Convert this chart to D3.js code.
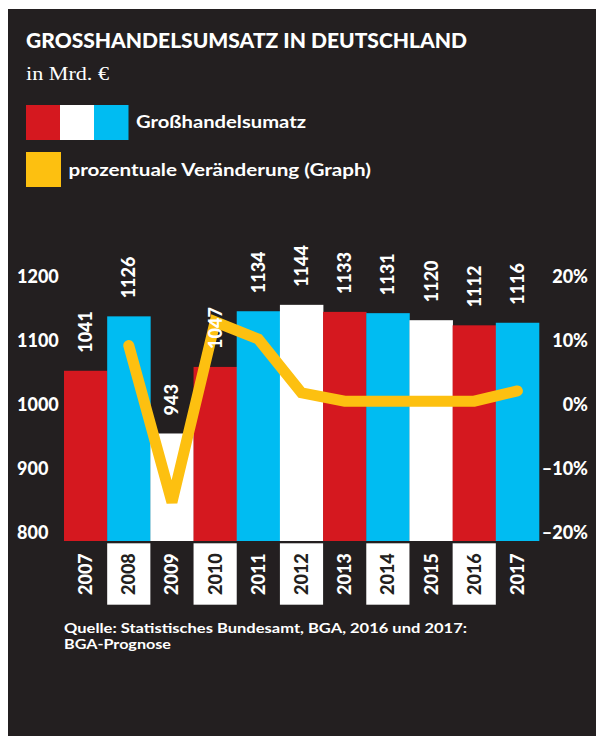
<!DOCTYPE html>
<html>
<head>
<meta charset="utf-8">
<script src="https://cdn.jsdelivr.net/npm/d3@7"></script>
<style>
  html, body { margin: 0; padding: 0; background: #ffffff; }
  svg { display: block; }
  text { font-family: Lato, "Noto Sans", sans-serif; }
</style>
</head>
<body>
<svg id="chart" width="596" height="736"></svg>
<script>
// ---- data ----
const years = ["2007","2008","2009","2010","2011","2012","2013","2014","2015","2016","2017"];
const umsatz = [1041, 1126, 943, 1047, 1134, 1144, 1133, 1131, 1120, 1112, 1116];
const veraenderung = [null, 9.3, -15.2, 13.0, 10.3, 1.9, 0.6, 0.6, 0.6, 0.6, 2.2];
const leftTicks = [800, 900, 1000, 1100, 1200];
const rightTicks = [-20, -10, 0, 10, 20];
const rightTickLabels = ["\u201320%", "\u201310%", "0%", "10%", "20%"];
const barColors = ["#d5181f", "#00bcf2", "#ffffff"];
const legendColors = ["#d5181f", "#ffffff", "#00bcf2"];
const lineColor = "#fdc010";
const bg = "#231f20";

const svg = d3.select("#chart");

// background
svg.append("rect").attr("x", 8).attr("y", 9).attr("width", 588).attr("height", 727).attr("fill", bg);

// title
svg.append("text").attr("x", 26).attr("y", 48)
  .attr("fill", "#fff").attr("font-size", 20).attr("font-weight", 900)
  .attr("textLength", 441).attr("lengthAdjust", "spacingAndGlyphs")
  .text("GROSSHANDELSUMSATZ IN DEUTSCHLAND");
svg.append("text").attr("x", 26).attr("y", 80)
  .attr("fill", "#fff").attr("font-size", 19)
  .style("font-family", "'Liberation Serif', serif")
  .attr("textLength", 83).attr("lengthAdjust", "spacingAndGlyphs")
  .text("in Mrd. \u20ac");

// legend
const legSw = [[26, 60], [60, 94], [94, 128.5]];
legSw.forEach((s, i) => {
  svg.append("rect").attr("x", s[0]).attr("y", 105).attr("width", s[1] - s[0]).attr("height", 35).attr("fill", legendColors[i]);
});
svg.append("text").attr("x", 136).attr("y", 128).attr("fill", "#fff")
  .attr("font-size", 16.5).attr("font-weight", 700)
  .attr("textLength", 170).attr("lengthAdjust", "spacingAndGlyphs")
  .text("Großhandelsumatz");
svg.append("rect").attr("x", 26).attr("y", 152).attr("width", 35).attr("height", 35).attr("fill", lineColor);
svg.append("text").attr("x", 68.5).attr("y", 175.5).attr("fill", "#fff")
  .attr("font-size", 16.5).attr("font-weight", 700)
  .attr("textLength", 302.5).attr("lengthAdjust", "spacingAndGlyphs")
  .text("prozentuale Veränderung (Graph)");

// scales
const x = d3.scaleBand().domain(years).range([64, 539]).padding(0);
const yBar = d3.scaleLinear().domain([775, 1200]).range([541, 269]);
const yL = d3.scaleLinear().domain([800, 1200]).range([533, 277]);
const yR = d3.scaleLinear().domain([-20, 20]).range([533, 277]);

// bars
svg.append("g").selectAll("rect").data(umsatz).join("rect")
  .attr("x", (d, i) => x(years[i]))
  .attr("width", x.bandwidth() + 0.3)
  .attr("y", d => yBar(d))
  .attr("height", d => yBar.range()[0] - yBar(d))
  .attr("fill", (d, i) => barColors[i % 3]);

// year label boxes
svg.append("g").selectAll("rect").data(years.filter((d, i) => i % 2 === 1)).join("rect")
  .attr("x", d => x(d)).attr("width", x.bandwidth())
  .attr("y", 543.3).attr("height", 61.4).attr("fill", "#fff");

// year labels
svg.append("g").selectAll("text").data(years).join("text")
  .attr("transform", d => `translate(${x(d) + x.bandwidth() / 2 + 6.5},595) rotate(-90)`)
  .attr("text-anchor", "start")
  .attr("font-size", 18).attr("font-weight", 900)
  .attr("fill", (d, i) => i % 2 === 1 ? bg : "#fff")
  .text(d => d);

// line
const line = d3.line()
  .defined(d => d.v !== null)
  .x(d => x(d.year) + x.bandwidth() / 2)
  .y(d => yR(d.v));
svg.append("path")
  .datum(years.map((y, i) => ({ year: y, v: veraenderung[i] })))
  .attr("d", line)
  .attr("fill", "none").attr("stroke", lineColor).attr("stroke-width", 11)
  .attr("stroke-linecap", "round").attr("stroke-linejoin", "miter").attr("stroke-miterlimit", 2);

// value labels
svg.append("g").selectAll("text").data(umsatz).join("text")
  .attr("transform", (d, i) => `translate(${x(years[i]) + x.bandwidth() / 2 + 6.5},${yBar(d) - 18}) rotate(-90)`)
  .attr("text-anchor", "start")
  .attr("font-size", 18).attr("font-weight", 900)
  .attr("fill", "#fff")
  .text(d => d);

// left axis (labels only)
const gL = svg.append("g").attr("transform", "translate(17,0)")
  .call(d3.axisRight(yL).tickValues(leftTicks).tickSize(0).tickPadding(0).tickFormat(d3.format("d")));
gL.select(".domain").remove();
gL.selectAll("text").attr("fill", "#fff").attr("font-size", 18).attr("font-weight", 900)
  .style("font-family", "Lato, sans-serif").attr("text-anchor", "start");

// right axis (labels only)
const gR = svg.append("g").attr("transform", "translate(588,0)")
  .call(d3.axisLeft(yR).tickValues(rightTicks).tickSize(0).tickPadding(0)
    .tickFormat((d, i) => rightTickLabels[i]));
gR.select(".domain").remove();
gR.selectAll("text").attr("fill", "#fff").attr("font-size", 18).attr("font-weight", 900)
  .style("font-family", "Lato, sans-serif").attr("text-anchor", "end");

// source
svg.append("text").attr("x", 64).attr("y", 633).attr("fill", "#fff")
  .attr("font-size", 12.5).attr("font-weight", 700)
  .attr("textLength", 403).attr("lengthAdjust", "spacingAndGlyphs")
  .text("Quelle: Statistisches Bundesamt, BGA, 2016 und 2017:");
svg.append("text").attr("x", 64).attr("y", 649).attr("fill", "#fff")
  .attr("font-size", 12.5).attr("font-weight", 700)
  .attr("textLength", 107).attr("lengthAdjust", "spacingAndGlyphs")
  .text("BGA-Prognose");
</script>
</body>
</html>
